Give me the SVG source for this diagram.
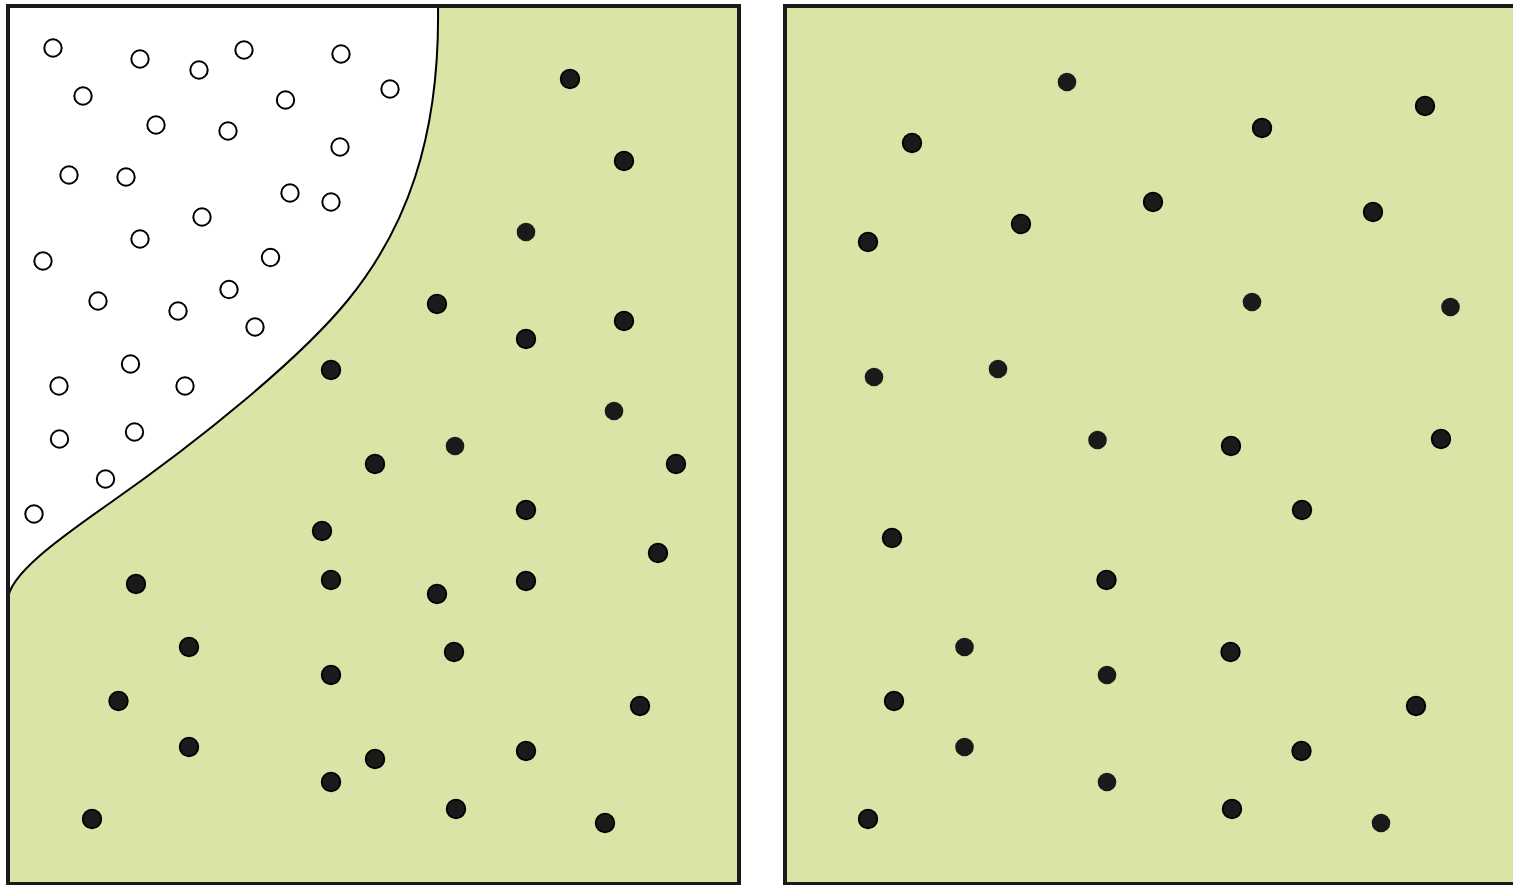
<svg xmlns="http://www.w3.org/2000/svg" width="1513" height="885" viewBox="0 0 1513 885">
<style>
.panel{fill:#d9e4a6;stroke:#1a1a1a;stroke-width:4}
.frame{fill:none;stroke:#1a1a1a;stroke-width:4}
.o{fill:#fff;stroke:#000;stroke-width:2}
.b{fill:#1a1a1a;stroke:#000;stroke-width:1.8}
.s{fill:#1a1a1a;stroke:none}
</style>
<rect width="1513" height="885" fill="#fff"/>
<g id="left-panel">
<rect class="panel" x="8" y="6" width="731" height="878"/>
<path d="M438,6 C440,140 405,230 348,300 C300,359 200,440 110,503 C60,538 8,575 8,600 L8,6 Z" fill="#fff" stroke="none"/>
<path d="M438,6 C440,140 405,230 348,300 C300,359 200,440 110,503 C60,538 8,575 8,600" fill="none" stroke="#000" stroke-width="2"/>
<rect class="frame" x="8" y="6" width="731" height="878"/>
<g id="open-particles">
<circle class="o" cx="53" cy="48" r="8.7"/>
<circle class="o" cx="140" cy="59" r="8.7"/>
<circle class="o" cx="199" cy="70" r="8.7"/>
<circle class="o" cx="244" cy="50" r="8.7"/>
<circle class="o" cx="341" cy="54" r="8.7"/>
<circle class="o" cx="390" cy="89" r="8.7"/>
<circle class="o" cx="83" cy="96" r="8.7"/>
<circle class="o" cx="156" cy="125" r="8.7"/>
<circle class="o" cx="228" cy="131" r="8.7"/>
<circle class="o" cx="285.5" cy="100" r="8.7"/>
<circle class="o" cx="340" cy="147" r="8.7"/>
<circle class="o" cx="69" cy="175" r="8.7"/>
<circle class="o" cx="126" cy="177" r="8.7"/>
<circle class="o" cx="290" cy="193" r="8.7"/>
<circle class="o" cx="331" cy="202" r="8.7"/>
<circle class="o" cx="202" cy="217" r="8.7"/>
<circle class="o" cx="140" cy="239" r="8.7"/>
<circle class="o" cx="43" cy="261" r="8.7"/>
<circle class="o" cx="270.5" cy="257.5" r="8.7"/>
<circle class="o" cx="98" cy="301" r="8.7"/>
<circle class="o" cx="178" cy="311" r="8.7"/>
<circle class="o" cx="229" cy="289.5" r="8.7"/>
<circle class="o" cx="255" cy="327" r="8.7"/>
<circle class="o" cx="130.5" cy="364" r="8.7"/>
<circle class="o" cx="59" cy="386" r="8.7"/>
<circle class="o" cx="185" cy="386" r="8.7"/>
<circle class="o" cx="59.5" cy="439" r="8.7"/>
<circle class="o" cx="134.5" cy="432" r="8.7"/>
<circle class="o" cx="105.5" cy="479" r="8.7"/>
<circle class="o" cx="34" cy="514" r="8.7"/>
</g>
<g id="left-filled-particles">
<circle class="b" cx="570" cy="79" r="9.3"/>
<circle class="b" cx="624" cy="161" r="9.3"/>
<circle class="s" cx="526" cy="232" r="9.3"/>
<circle class="b" cx="437" cy="304" r="9.3"/>
<circle class="b" cx="526" cy="339" r="9.3"/>
<circle class="b" cx="624" cy="321" r="9.3"/>
<circle class="b" cx="331" cy="370" r="9.3"/>
<circle class="s" cx="614" cy="411" r="9.3"/>
<circle class="s" cx="455" cy="446" r="9.3"/>
<circle class="b" cx="375" cy="464" r="9.3"/>
<circle class="b" cx="676" cy="464" r="9.3"/>
<circle class="b" cx="526" cy="510" r="9.3"/>
<circle class="b" cx="322" cy="531" r="9.3"/>
<circle class="b" cx="658" cy="553" r="9.3"/>
<circle class="b" cx="136" cy="584" r="9.3"/>
<circle class="b" cx="331" cy="580" r="9.3"/>
<circle class="b" cx="437" cy="594" r="9.3"/>
<circle class="b" cx="526" cy="581" r="9.3"/>
<circle class="b" cx="189" cy="647" r="9.3"/>
<circle class="b" cx="454" cy="652" r="9.3"/>
<circle class="b" cx="331" cy="675" r="9.3"/>
<circle class="b" cx="118.5" cy="701" r="9.3"/>
<circle class="b" cx="640" cy="706" r="9.3"/>
<circle class="b" cx="189" cy="747" r="9.3"/>
<circle class="b" cx="526" cy="751" r="9.3"/>
<circle class="b" cx="375" cy="759" r="9.3"/>
<circle class="b" cx="331" cy="782" r="9.3"/>
<circle class="b" cx="92" cy="819" r="9.3"/>
<circle class="b" cx="456" cy="809" r="9.3"/>
<circle class="b" cx="605" cy="823" r="9.3"/>
</g>
</g>
<g id="right-panel">
<rect class="panel" x="785" y="6" width="740" height="878"/>
<g id="right-filled-particles">
<circle class="s" cx="1067" cy="82" r="9.3"/>
<circle class="b" cx="912" cy="143" r="9.3"/>
<circle class="b" cx="1262" cy="128" r="9.3"/>
<circle class="b" cx="1425" cy="106" r="9.3"/>
<circle class="b" cx="868" cy="242" r="9.3"/>
<circle class="b" cx="1021" cy="224" r="9.3"/>
<circle class="b" cx="1153" cy="202" r="9.3"/>
<circle class="b" cx="1373" cy="212" r="9.3"/>
<circle class="s" cx="1252" cy="302" r="9.3"/>
<circle class="s" cx="1450.5" cy="307" r="9.3"/>
<circle class="s" cx="874" cy="377" r="9.3"/>
<circle class="s" cx="998" cy="369" r="9.3"/>
<circle class="s" cx="1097.5" cy="440" r="9.3"/>
<circle class="b" cx="1231" cy="446" r="9.3"/>
<circle class="b" cx="1441" cy="439" r="9.3"/>
<circle class="b" cx="1302" cy="510" r="9.3"/>
<circle class="b" cx="892" cy="538" r="9.3"/>
<circle class="b" cx="1106.5" cy="580" r="9.3"/>
<circle class="s" cx="964.5" cy="647" r="9.3"/>
<circle class="b" cx="1230.5" cy="652" r="9.3"/>
<circle class="s" cx="1107" cy="675" r="9.3"/>
<circle class="b" cx="894" cy="701" r="9.3"/>
<circle class="b" cx="1416" cy="706" r="9.3"/>
<circle class="s" cx="964.5" cy="747" r="9.3"/>
<circle class="b" cx="1301.5" cy="751" r="9.3"/>
<circle class="s" cx="1107" cy="782" r="9.3"/>
<circle class="b" cx="868" cy="819" r="9.3"/>
<circle class="b" cx="1232" cy="809" r="9.3"/>
<circle class="s" cx="1381" cy="823" r="9.3"/>
</g>
</g>
</svg>
